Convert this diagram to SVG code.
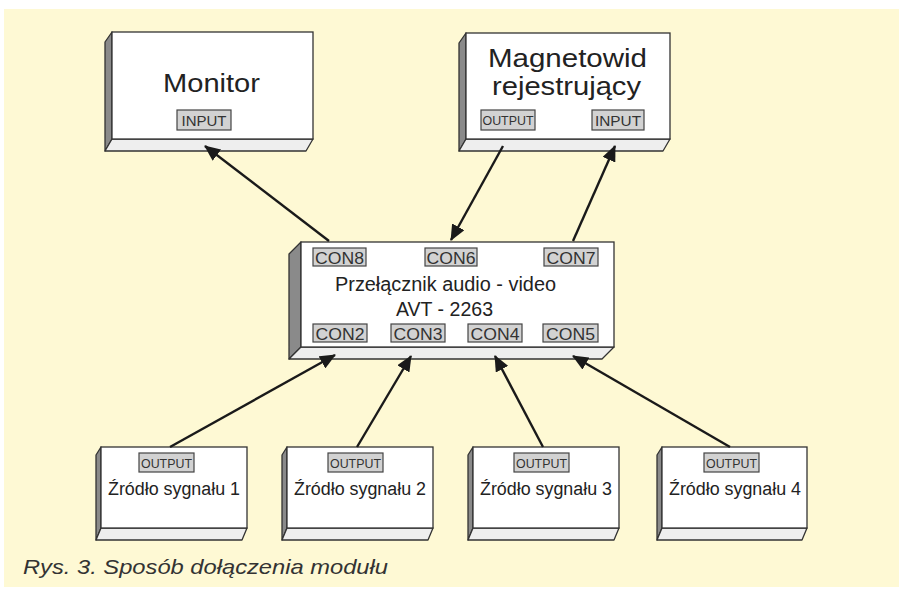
<svg xmlns="http://www.w3.org/2000/svg" width="903" height="589" viewBox="0 0 903 589">
<defs>
<style>
.bg{fill:#fef9d4}
.front{fill:#ffffff;stroke:#333;stroke-width:1.3}
.side{fill:#8a8a8a;stroke:#333;stroke-width:1.3;stroke-linejoin:round}
.bottom{fill:#eeeeee;stroke:#333;stroke-width:1.3;stroke-linejoin:round}
.lbl{fill:#d2d2d2;stroke:#444;stroke-width:1.2}
.lt{font-family:"Liberation Sans",Arial,sans-serif;fill:#333;text-anchor:middle}
.t{font-family:"Liberation Sans",Arial,sans-serif;fill:#222;text-anchor:middle}
.con{stroke:#1a1a1a;stroke-width:2.4;fill:none;marker-end:url(#ah)}
</style>
<marker id="ah" markerWidth="16" markerHeight="14" refX="15" refY="7" orient="auto" markerUnits="userSpaceOnUse">
<path d="M0,0 L16,7 L0,14 Z" fill="#1a1a1a"/>
</marker>
</defs>
<rect class="bg" x="4" y="9" width="895" height="578"/>

<g id="monitor">
<path class="side" d="M112,32 L105,42 L105,151 L112,139 Z"/>
<path class="bottom" d="M112,139 L313,139 L306,151 L105,151 Z"/>
<rect class="front" x="112" y="32" width="201" height="107"/>
<text class="t" x="211.5" y="92" font-size="25" textLength="97" lengthAdjust="spacingAndGlyphs">Monitor</text>
<rect class="lbl" x="177" y="110" width="54" height="20"/>
<text class="lt" x="204" y="126" font-size="15" textLength="45" lengthAdjust="spacingAndGlyphs">INPUT</text>
</g>

<g id="magnetowid">
<path class="side" d="M466,33 L459,43 L459,151 L466,139 Z"/>
<path class="bottom" d="M466,139 L670,139 L663,151 L459,151 Z"/>
<rect class="front" x="466" y="33" width="204" height="106"/>
<text class="t" x="567.5" y="67" font-size="25" textLength="159" lengthAdjust="spacingAndGlyphs">Magnetowid</text>
<text class="t" x="566.5" y="95" font-size="25" textLength="149" lengthAdjust="spacingAndGlyphs">rejestrujący</text>
<rect class="lbl" x="481" y="110" width="54" height="20"/>
<text class="lt" x="508" y="125" font-size="12" textLength="51" lengthAdjust="spacingAndGlyphs">OUTPUT</text>
<rect class="lbl" x="592" y="110" width="52" height="20"/>
<text class="lt" x="618" y="126" font-size="15" textLength="46" lengthAdjust="spacingAndGlyphs">INPUT</text>
</g>

<g id="przelacznik">
<path class="side" d="M301,242 L289,254 L289,359 L301,347 Z"/>
<path class="bottom" d="M301,347 L614,347 L602,359 L289,359 Z"/>
<rect class="front" x="301" y="242" width="313" height="105"/>
<rect class="lbl" x="313" y="248" width="53" height="18"/>
<text class="lt" x="339.5" y="264" font-size="17" textLength="49" lengthAdjust="spacingAndGlyphs">CON8</text>
<rect class="lbl" x="425" y="248" width="52" height="18"/>
<text class="lt" x="451" y="264" font-size="17" textLength="49" lengthAdjust="spacingAndGlyphs">CON6</text>
<rect class="lbl" x="544" y="248" width="54" height="18"/>
<text class="lt" x="571" y="264" font-size="17" textLength="49" lengthAdjust="spacingAndGlyphs">CON7</text>
<text class="t" x="445.5" y="291" font-size="20" textLength="221" lengthAdjust="spacingAndGlyphs">Przełącznik audio - video</text>
<text class="t" x="444.5" y="316" font-size="20" textLength="97" lengthAdjust="spacingAndGlyphs">AVT - 2263</text>
<rect class="lbl" x="313" y="324" width="54" height="18"/>
<text class="lt" x="340" y="340" font-size="17" textLength="49" lengthAdjust="spacingAndGlyphs">CON2</text>
<rect class="lbl" x="391" y="324" width="54" height="18"/>
<text class="lt" x="418" y="340" font-size="17" textLength="49" lengthAdjust="spacingAndGlyphs">CON3</text>
<rect class="lbl" x="468" y="324" width="54" height="18"/>
<text class="lt" x="495" y="340" font-size="17" textLength="49" lengthAdjust="spacingAndGlyphs">CON4</text>
<rect class="lbl" x="543" y="324" width="55" height="18"/>
<text class="lt" x="570.5" y="340" font-size="17" textLength="49" lengthAdjust="spacingAndGlyphs">CON5</text>
</g>

<g id="zrodlo1">
<path class="side" d="M101,447 L96,455 L96,540 L101,528 Z"/>
<path class="bottom" d="M101,528 L247,528 L242,540 L96,540 Z"/>
<rect class="front" x="101" y="447" width="146" height="81"/>
<rect class="lbl" x="139" y="453" width="55" height="19"/>
<text class="lt" x="166.5" y="468" font-size="12" textLength="51" lengthAdjust="spacingAndGlyphs">OUTPUT</text>
<text class="t" x="174" y="495" font-size="18" textLength="132" lengthAdjust="spacingAndGlyphs">Źródło sygnału 1</text>
</g>

<g id="zrodlo2">
<path class="side" d="M287,447 L282,455 L282,540 L287,528 Z"/>
<path class="bottom" d="M287,528 L433,528 L428,540 L282,540 Z"/>
<rect class="front" x="287" y="447" width="146" height="81"/>
<rect class="lbl" x="328" y="453" width="55" height="19"/>
<text class="lt" x="355.5" y="468" font-size="12" textLength="51" lengthAdjust="spacingAndGlyphs">OUTPUT</text>
<text class="t" x="360" y="495" font-size="18" textLength="132" lengthAdjust="spacingAndGlyphs">Źródło sygnału 2</text>
</g>

<g id="zrodlo3">
<path class="side" d="M473,447 L468,455 L468,540 L473,528 Z"/>
<path class="bottom" d="M473,528 L619,528 L614,540 L468,540 Z"/>
<rect class="front" x="473" y="447" width="146" height="81"/>
<rect class="lbl" x="514" y="453" width="55" height="19"/>
<text class="lt" x="541.5" y="468" font-size="12" textLength="51" lengthAdjust="spacingAndGlyphs">OUTPUT</text>
<text class="t" x="546" y="495" font-size="18" textLength="132" lengthAdjust="spacingAndGlyphs">Źródło sygnału 3</text>
</g>

<g id="zrodlo4">
<path class="side" d="M662,447 L657,455 L657,540 L662,528 Z"/>
<path class="bottom" d="M662,528 L807,528 L802,540 L657,540 Z"/>
<rect class="front" x="662" y="447" width="145" height="81"/>
<rect class="lbl" x="704" y="453" width="55" height="19"/>
<text class="lt" x="731.5" y="468" font-size="12" textLength="51" lengthAdjust="spacingAndGlyphs">OUTPUT</text>
<text class="t" x="735" y="495" font-size="18" textLength="132" lengthAdjust="spacingAndGlyphs">Źródło sygnału 4</text>
</g>

<g id="connectors">
<line class="con" x1="329" y1="241" x2="205" y2="146"/>
<line class="con" x1="503" y1="146" x2="451" y2="240"/>
<line class="con" x1="573" y1="241" x2="615" y2="146"/>
<line class="con" x1="170" y1="447" x2="335" y2="355"/>
<line class="con" x1="357" y1="447" x2="411" y2="356"/>
<line class="con" x1="543" y1="447" x2="495" y2="356"/>
<line class="con" x1="730" y1="447" x2="573" y2="356"/>
</g>

<text x="23" y="574" font-family="'Liberation Sans',Arial,sans-serif" font-style="italic" font-size="21" fill="#333" textLength="365" lengthAdjust="spacingAndGlyphs">Rys. 3. Sposób dołączenia modułu</text>
</svg>
